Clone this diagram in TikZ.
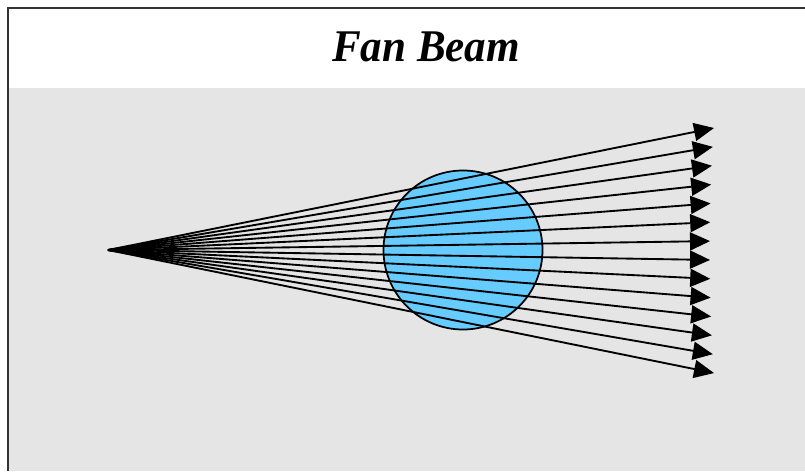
\documentclass[tikz,border=0pt]{standalone}
\usepackage{fontspec}
\setmainfont{Liberation Serif}
\usetikzlibrary{arrows.meta}
\definecolor{panel}{HTML}{E5E5E5}
\definecolor{objfill}{HTML}{66CCFF}
\definecolor{framec}{HTML}{333333}

\begin{document}
\begin{tikzpicture}[
  x=0.75pt, y=-0.75pt,
  ray/.style={-{Triangle[length=15pt, width=13.5pt]}, line width=1.4pt, black},
  object/.style={circle, draw=black, line width=1.3pt, fill=objfill,
    minimum size=159*0.75pt, inner sep=0pt},
  title/.style={font=\fontsize{34}{40}\selectfont\bfseries\itshape}
]
  \useasboundingbox (0,0) rectangle (805,471);
  % background and frame
  \fill[white] (0,0) rectangle (805,471);
  \fill[panel] (9,88) rectangle (805,471);
  \draw[framec, line width=1.5pt] (8,471) -- (8,8) -- (805,8);
  \node[title] (head) at (426,47) {\scalebox{0.95}[1]{Fan Beam}};

  % object and source
  \node[object] (obj) at (463,250) {};
  \coordinate (src) at (108,250);

  % fan of rays
  \foreach \i in {0,...,13} {
    \pgfmathsetmacro{\ey}{128 + \i*18.85}
    \pgfmathsetmacro{\ex}{710 + 4*((\i-6.5)/6.5)^2}
    \coordinate (e\i) at (\ex,\ey);
    \draw[ray] (src) -- (e\i);
  }
\end{tikzpicture}
\end{document}
